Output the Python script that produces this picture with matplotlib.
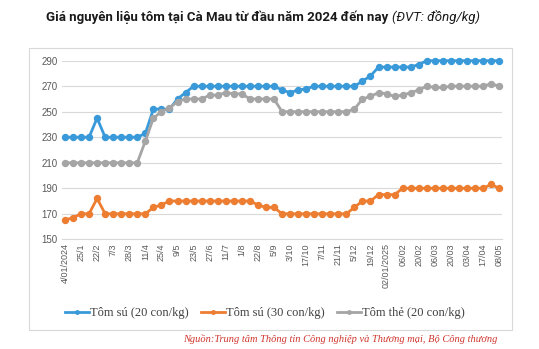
import matplotlib.pyplot as plt
from matplotlib.patches import Rectangle
from matplotlib.lines import Line2D

# Survey dates (every other one gets a label on the x axis)
dates = ['4/01/2024', '', '25/1', '', '22/2', '', '7/3', '', '28/3', '',
         '11/4', '', '25/4', '', '9/5', '', '23/5', '', '27/6', '',
         '11/7', '', '1/8', '', '22/8', '', '5/9', '', '3/10', '',
         '17/10', '', '7/11', '', '21/11', '', '5/12', '', '19/12', '',
         '02/01/2025', '', '06/02', '', '20/02', '', '06/03', '', '20/03', '',
         '03/04', '', '17/04', '', '08/05']

# Prices in thousand dong/kg
su20 = [230, 230, 230, 230, 245, 230, 230, 230, 230, 230,
        233, 252, 252, 252, 260, 265, 270, 270, 270, 270,
        270, 270, 270, 270, 270, 270, 270, 267, 265, 267,
        268, 270, 270, 270, 270, 270, 270, 274, 278, 285,
        285, 285, 285, 285, 287, 290, 290, 290, 290, 290,
        290, 290, 290, 290, 290]
su30 = [165, 167, 170, 170, 182, 170, 170, 170, 170, 170,
        170, 175, 177, 180, 180, 180, 180, 180, 180, 180,
        180, 180, 180, 180, 177, 175, 175, 170, 170, 170,
        170, 170, 170, 170, 170, 170, 175, 180, 180, 185,
        185, 185, 190, 190, 190, 190, 190, 190, 190, 190,
        190, 190, 190, 193, 190]
the20 = [210, 210, 210, 210, 210, 210, 210, 210, 210, 210,
         227, 245, 250, 253, 258, 260, 260, 260, 263, 263,
         265, 264, 264, 260, 260, 260, 260, 250, 250, 250,
         250, 250, 250, 250, 250, 250, 252, 260, 262, 265,
         264, 262, 263, 265, 267, 270, 269, 269, 270, 270,
         270, 270, 270, 272, 270]

series_names = ['Tôm sú (20 con/kg)', 'Tôm sú (30 con/kg)', 'Tôm thẻ (20 con/kg)']
colors = ['#3a9ad9', '#ed7d31', '#a5a5a5']

fig = plt.figure(figsize=(5.39, 3.49), dpi=100)
ax = fig.add_axes([0.1145, 0.3143, 0.816, 0.5118])

x = list(range(len(dates)))
for vals, name, c in zip([su20, su30, the20], series_names, colors):
    ax.plot(x, vals, color=c, lw=2.0, marker='o', ms=4.3, label=name,
            clip_on=False, zorder=3)

ax.set_xlim(-0.4, 54.3)
ax.set_ylim(150, 290)
ax.set_yticks(range(150, 291, 20))
ax.set_xticks(x)
ax.set_xticklabels(dates, rotation=90, fontsize=6.5, color='#595959',
                   family='Liberation Sans')
for lab in ax.get_yticklabels():
    lab.set_fontsize(7)
    lab.set_color('#595959')
    lab.set_family('Liberation Sans')
ax.tick_params(length=0, pad=3)
ax.grid(axis='y', color='#d9d9d9', lw=0.8)
ax.set_axisbelow(True)
for side in ['top', 'right', 'left']:
    ax.spines[side].set_visible(False)
ax.spines['bottom'].set_color('#d9d9d9')

# chart frame
fig.add_artist(Rectangle((29 / 539, 1 - 330 / 349), 483 / 539, 282 / 349,
                         transform=fig.transFigure, fill=False,
                         edgecolor='#d9d9d9', lw=0.8))

handles = [Line2D([], [], color=c, lw=2.0, marker='o', ms=2.5) for c in colors]
fig.legend(handles, series_names, loc='center', bbox_to_anchor=(265 / 539, 1 - 313 / 349),
           ncol=3, frameon=False, handlelength=1.9, handletextpad=0.1,
           columnspacing=1.0, prop={'family': 'Liberation Serif', 'size': 9},
           labelcolor='#404040')

# title: bold part plus italic unit
t1 = fig.text(0.5, 1 - 17 / 349, 'Giá nguyên liệu tôm tại Cà Mau từ đầu năm 2024 đến nay ',
              ha='right', va='center', fontsize=9.5, fontweight='bold',
              family='Roboto', color='#1a1a1a')
t2 = fig.text(0.5, 1 - 17 / 349, '(ĐVT: đồng/kg)', ha='left', va='center',
              fontsize=9.5, style='italic', family='Roboto', color='#1a1a1a')
fig.canvas.draw()
w1 = t1.get_window_extent().width
w2 = t2.get_window_extent().width
start = (263 - (w1 + w2) / 2) / 539
t1.set_position((start + w1 / 539, 1 - 17 / 349))
t2.set_position((start + w1 / 539, 1 - 17 / 349))

fig.text(497 / 539, 1 - 339 / 349,
         'Nguồn:Trung tâm Thông tin Công nghiệp và Thương mại, Bộ Công thương',
         ha='right', va='center', fontsize=7.5, style='italic',
         family='Liberation Serif', color='#d0342c')

fig.savefig('out.png', dpi=100)
